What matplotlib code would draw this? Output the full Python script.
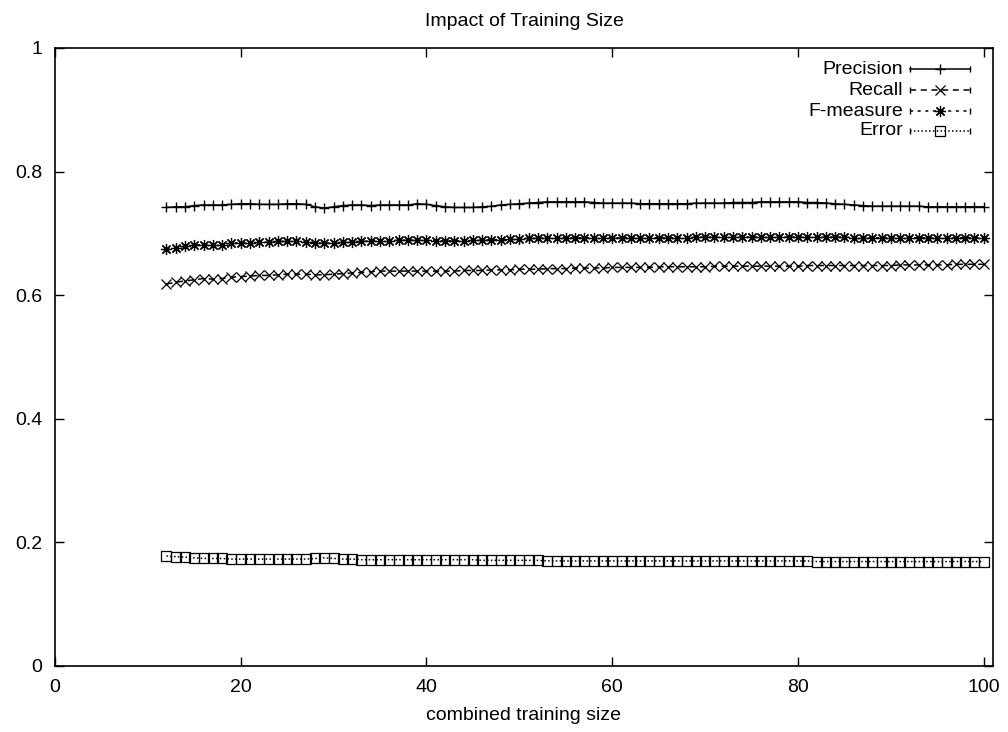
import numpy as np
import matplotlib
matplotlib.use('Agg')
import matplotlib.pyplot as plt

plt.rcParams['font.family'] = ['Liberation Sans', 'DejaVu Sans']

# training sizes 12..100
sizes = list(range(12, 101))

precision = [0.742, 0.743, 0.743, 0.745, 0.746, 0.746, 0.746, 0.747, 0.748, 0.748,
             0.747, 0.747, 0.747, 0.748, 0.748, 0.747, 0.743, 0.741, 0.743, 0.745,
             0.746, 0.746, 0.745, 0.746, 0.746, 0.746, 0.746, 0.748, 0.747, 0.745,
             0.743, 0.742, 0.742, 0.742, 0.743, 0.744, 0.746, 0.747, 0.748, 0.749,
             0.750, 0.751, 0.751, 0.751, 0.751, 0.751, 0.750, 0.749, 0.749, 0.749,
             0.749, 0.748, 0.748, 0.748, 0.748, 0.748, 0.748, 0.749, 0.749, 0.749,
             0.749, 0.750, 0.750, 0.750, 0.751, 0.751, 0.751, 0.751, 0.751, 0.750,
             0.750, 0.749, 0.748, 0.747, 0.746, 0.745, 0.744, 0.744, 0.744, 0.744,
             0.744, 0.744, 0.743, 0.743, 0.743, 0.743, 0.743, 0.743, 0.743]

recall = [0.618, 0.621, 0.623, 0.625, 0.627, 0.626, 0.627, 0.629, 0.630, 0.631,
          0.632, 0.632, 0.633, 0.634, 0.634, 0.634, 0.633, 0.633, 0.634, 0.635,
          0.636, 0.637, 0.638, 0.639, 0.639, 0.639, 0.639, 0.639, 0.639, 0.639,
          0.639, 0.639, 0.640, 0.640, 0.640, 0.641, 0.641, 0.641, 0.642, 0.642,
          0.642, 0.643, 0.643, 0.643, 0.644, 0.644, 0.644, 0.644, 0.645, 0.645,
          0.645, 0.645, 0.645, 0.646, 0.646, 0.646, 0.646, 0.646, 0.646, 0.647,
          0.647, 0.647, 0.647, 0.647, 0.647, 0.647, 0.647, 0.647, 0.647, 0.648,
          0.648, 0.648, 0.648, 0.648, 0.648, 0.648, 0.648, 0.648, 0.648, 0.649,
          0.649, 0.649, 0.649, 0.649, 0.649, 0.650, 0.650, 0.650, 0.650]

fmeasure = [0.675, 0.677, 0.679, 0.681, 0.682, 0.681, 0.682, 0.684, 0.685, 0.685,
            0.686, 0.686, 0.687, 0.687, 0.687, 0.686, 0.685, 0.684, 0.685, 0.686,
            0.686, 0.687, 0.688, 0.688, 0.688, 0.689, 0.689, 0.689, 0.689, 0.688,
            0.688, 0.688, 0.688, 0.689, 0.689, 0.690, 0.690, 0.691, 0.691, 0.692,
            0.692, 0.693, 0.693, 0.693, 0.693, 0.693, 0.693, 0.693, 0.693, 0.693,
            0.693, 0.693, 0.693, 0.693, 0.693, 0.693, 0.693, 0.694, 0.694, 0.694,
            0.694, 0.694, 0.694, 0.694, 0.694, 0.694, 0.694, 0.694, 0.694, 0.694,
            0.694, 0.694, 0.694, 0.694, 0.693, 0.693, 0.693, 0.693, 0.693, 0.693,
            0.693, 0.693, 0.693, 0.693, 0.693, 0.693, 0.693, 0.693, 0.693]

error = [0.178, 0.177, 0.176, 0.175, 0.174, 0.174, 0.174, 0.173, 0.173, 0.173,
         0.173, 0.173, 0.173, 0.173, 0.173, 0.173, 0.174, 0.175, 0.174, 0.173,
         0.173, 0.172, 0.172, 0.172, 0.172, 0.172, 0.172, 0.172, 0.172, 0.172,
         0.172, 0.172, 0.172, 0.172, 0.171, 0.171, 0.171, 0.171, 0.171, 0.171,
         0.171, 0.170, 0.170, 0.170, 0.170, 0.170, 0.170, 0.170, 0.170, 0.170,
         0.170, 0.170, 0.170, 0.170, 0.170, 0.170, 0.170, 0.170, 0.170, 0.170,
         0.170, 0.170, 0.170, 0.170, 0.170, 0.170, 0.170, 0.170, 0.170, 0.170,
         0.169, 0.169, 0.169, 0.169, 0.169, 0.169, 0.169, 0.169, 0.169, 0.169,
         0.169, 0.169, 0.169, 0.169, 0.169, 0.169, 0.169, 0.169, 0.169]

labels = ['Precision', 'Recall', 'F-measure', 'Error']
series = [precision, recall, fmeasure, error]
styles = [dict(ls='-', marker='+', ms=7.5, mew=1.0),
          dict(ls=(0, (4, 3)), marker='x', ms=6.8, mew=0.9),
          dict(ls=(0, (2, 3)), marker=(8, 2, 0), ms=8, mew=0.9),
          dict(ls=(0, (1, 1.5)), marker='s', ms=7, mew=0.9, mfc='none')]

fig = plt.figure(figsize=(10.08, 7.32), dpi=100)
ax = fig.add_axes([55/1008, 1-666/732, 938/1008, 618/732])

for ys, st in zip(series, styles):
    ax.plot(sizes, ys, color='black', lw=1.1, **st)

ax.set_xlim(0, 101)
ax.set_ylim(0, 1)
ax.set_xticks([0, 20, 40, 60, 80, 100])
ax.set_yticks([0, 0.2, 0.4, 0.6, 0.8, 1])
ax.set_yticklabels(['0', '0.2', '0.4', '0.6', '0.8', '1'])
ax.tick_params(direction='in', length=6.5, width=1.0, top=True, right=True,
               labelsize=14, pad=9)
for s in ax.spines.values():
    s.set_linewidth(1.2)

ax.set_title('Impact of Training Size', fontsize=14, pad=16)
ax.set_xlabel('combined training size', fontsize=14, labelpad=8)

# gnuplot-like key, top right
key_y = [0.966, 0.932, 0.898, 0.866]
for lab, st, ky in zip(labels, styles, key_y):
    ax.text(0.904, ky, lab, transform=ax.transAxes, ha='right', va='center', fontsize=14)
    ax.plot([0.9115, 0.9755], [ky, ky], transform=ax.transAxes, color='black',
            lw=1.1, ls=st['ls'], clip_on=False)
    ax.plot([0.9115, 0.9755], [ky, ky], transform=ax.transAxes, color='black',
            ls='none', marker='|', ms=5, mew=1.0, clip_on=False)
    mk = {k: v for k, v in st.items() if k != 'ls'}
    ax.plot([0.9435], [ky], transform=ax.transAxes, color='black', ls='none',
            clip_on=False, **mk)

plt.savefig('out.png', dpi=100)
